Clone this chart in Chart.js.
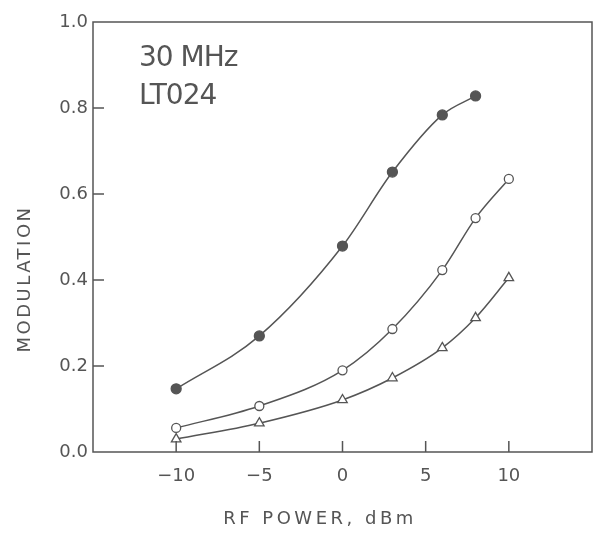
<!DOCTYPE html>
<html lang="en">
<head>
    <meta charset="UTF-8">
    <title>Modulation vs RF Power</title>
    <script src="https://cdn.jsdelivr.net/npm/chart.js"></script>
    <style>
        body, html {
            margin: 0;
            background: #fff;
        }
        .chart-container {
            width: 600px;
            height: 535px;
        }
    </style>
</head>
<body>
    <div class="chart-container">
        <canvas id="modChart"></canvas>
    </div>
    <script>
        // data
        const powerFilled = [-10, -5, 0, 3, 6, 8];
        const modFilled = [0.147, 0.27, 0.479, 0.651, 0.784, 0.828];
        const powerOpen = [-10, -5, 0, 3, 6, 8, 10];
        const modOpen = [0.056, 0.107, 0.19, 0.286, 0.423, 0.544, 0.635];
        const powerTri = [-10, -5, 0, 3, 6, 8, 10];
        const modTri = [0.03, 0.067, 0.121, 0.172, 0.242, 0.312, 0.405];
        const xTicks = [-10, -5, 0, 5, 10];
        const yTicks = [0.0, 0.2, 0.4, 0.6, 0.8, 1.0];
        const noteLines = ['30 MHz', 'LT024'];
        const xTitle = 'RF POWER, dBm';
        const yTitle = 'MODULATION';

        const ink = '#555';
        const font = 'DejaVu Sans';

        const toPts = (xs, ys) => xs.map((x, i) => ({ x: x, y: ys[i] }));

        // box round the plot, inward ticks, axis titles and the note in the corner
        const framePlugin = {
            id: 'frame',
            afterDatasetsDraw(chart) {
                const { ctx, chartArea: a, scales } = chart;
                ctx.save();
                ctx.strokeStyle = ink;
                ctx.lineWidth = 1.5;
                ctx.strokeRect(a.left, a.top, a.right - a.left, a.bottom - a.top);
                ctx.beginPath();
                yTicks.forEach(v => {
                    if (v <= 0 || v >= 1) return;
                    const y = scales.y.getPixelForValue(v);
                    ctx.moveTo(a.left, y);
                    ctx.lineTo(a.left + 11, y);
                });
                xTicks.forEach(v => {
                    const x = scales.x.getPixelForValue(v);
                    ctx.moveTo(x, a.bottom);
                    ctx.lineTo(x, a.bottom - 11);
                });
                ctx.stroke();

                ctx.fillStyle = ink;
                ctx.textBaseline = 'middle';
                ctx.font = '28px "' + font + '"';
                ctx.letterSpacing = '-1px';
                noteLines.forEach((t, i) => {
                    ctx.fillText(t, a.left + 46, a.top + 37 + i * 38);
                });

                ctx.font = '18px "' + font + '"';
                ctx.letterSpacing = '3.5px';
                ctx.textAlign = 'center';
                ctx.fillText(xTitle, 320, 519);

                ctx.translate(25, 279);
                ctx.rotate(-Math.PI / 2);
                ctx.letterSpacing = '2.5px';
                ctx.fillText(yTitle, 0, 0);
                ctx.restore();
            }
        };

        const lineSet = (label, data, style, fill, radius) => ({
            label: label,
            data: data,
            borderColor: ink,
            borderWidth: 1.5,
            pointStyle: style,
            pointRadius: radius,
            pointBackgroundColor: fill,
            pointBorderColor: ink,
            pointBorderWidth: 1.3,
            cubicInterpolationMode: 'monotone',
            tension: 0.4,
            fill: false
        });

        new Chart(document.getElementById('modChart'), {
            type: 'line',
            data: {
                datasets: [
                    lineSet('filled', toPts(powerFilled, modFilled), 'circle', ink, 5),
                    lineSet('open', toPts(powerOpen, modOpen), 'circle', '#fff', 4.5),
                    lineSet('triangle', toPts(powerTri, modTri), 'triangle', '#fff', 5.5)
                ]
            },
            options: {
                responsive: true,
                maintainAspectRatio: false,
                animation: false,
                layout: { padding: { top: 22, right: 8, left: 0, bottom: 0 } },
                plugins: {
                    legend: { display: false },
                    tooltip: { enabled: false }
                },
                scales: {
                    x: {
                        type: 'linear',
                        min: -15,
                        max: 15,
                        afterBuildTicks: s => { s.ticks = xTicks.map(v => ({ value: v })); },
                        afterFit: s => { s.height = 83; },
                        grid: { display: false, drawTicks: false },
                        border: { display: false },
                        ticks: {
                            color: ink,
                            padding: 14,
                            font: { family: font, size: 18 },
                            callback: v => (v < 0 ? '\u2212' + Math.abs(v) : '' + v)
                        }
                    },
                    y: {
                        min: 0,
                        max: 1,
                        afterBuildTicks: s => { s.ticks = yTicks.map(v => ({ value: v })); },
                        afterFit: s => { s.width = 93; },
                        grid: { display: false, drawTicks: false },
                        border: { display: false },
                        ticks: {
                            color: ink,
                            padding: 5,
                            font: { family: font, size: 18 },
                            callback: v => v.toFixed(1)
                        }
                    }
                }
            },
            plugins: [framePlugin]
        });
    </script>
</body>
</html>
